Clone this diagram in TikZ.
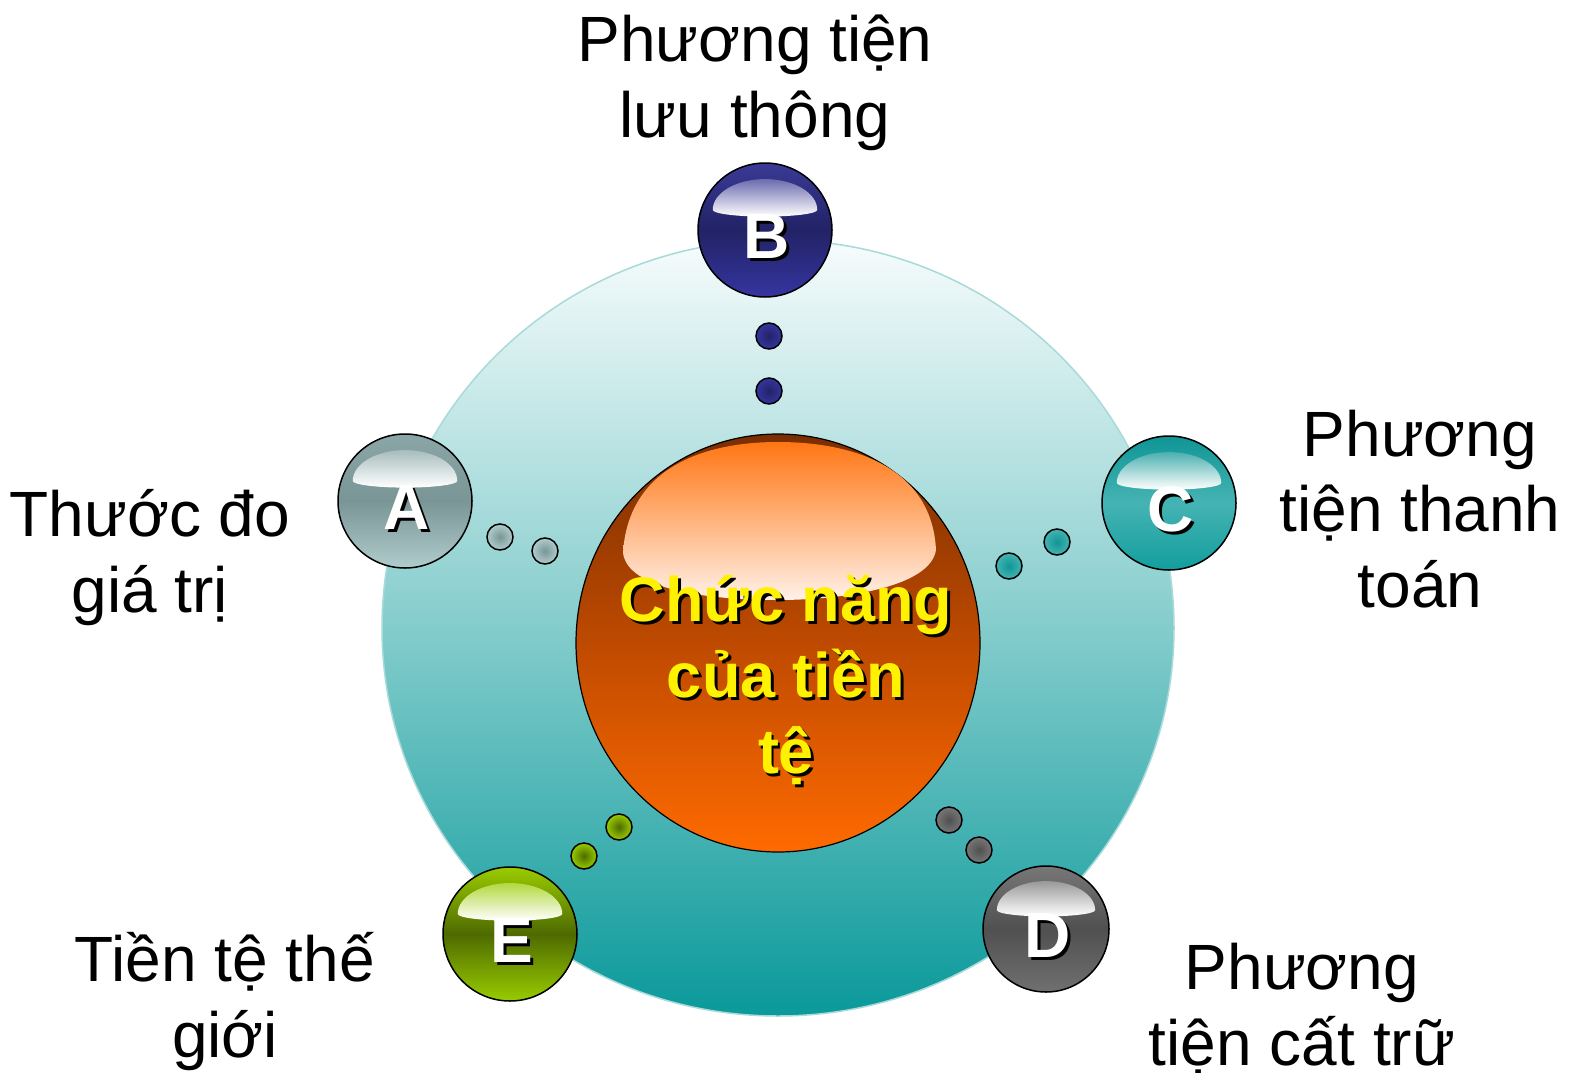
\documentclass[tikz,border=0pt]{standalone}
\usepackage{fontspec}
\setmainfont{Liberation Sans}
\usetikzlibrary{shapes.geometric,calc}
\definecolor{ringtop}{HTML}{F7FCFC}
\definecolor{ringmid}{HTML}{84CCCC}
\definecolor{ringbot}{HTML}{0A999A}
\definecolor{ringedge}{HTML}{A8DADA}
\definecolor{orTop}{HTML}{7A2E00}
\definecolor{orMid}{HTML}{BE4A00}
\definecolor{orBot}{HTML}{FF6A00}
\definecolor{hlTop}{HTML}{FF7614}
\definecolor{hlBot}{HTML}{FFF1E8}
\definecolor{aTop}{HTML}{8AA6A6}
\definecolor{aMid}{HTML}{7A9595}
\definecolor{aBot}{HTML}{B0CCCC}
\definecolor{bTop}{HTML}{3A3A96}
\definecolor{bMid}{HTML}{222266}
\definecolor{bBot}{HTML}{3535A0}
\definecolor{cTop}{HTML}{109595}
\definecolor{cMid}{HTML}{45B3B3}
\definecolor{cBot}{HTML}{139E9E}
\definecolor{dTop}{HTML}{777777}
\definecolor{dMid}{HTML}{505050}
\definecolor{dBot}{HTML}{707070}
\definecolor{eTop}{HTML}{9ACC00}
\definecolor{eMid}{HTML}{4E6A00}
\definecolor{eBot}{HTML}{99CC00}
\tikzset{
  orbshape/.style={circle, draw=black, line width=1.5pt, inner sep=0pt},
  smalldot/.style={circle, draw=black, line width=1.5pt, inner sep=0pt, minimum size=26pt, shading=radial},
  orbletter/.style={inner sep=0pt, anchor=center, font=\fontsize{64}{64}\selectfont\bfseries},
  coretext/.style={inner sep=0pt, anchor=base, align=center, font=\fontsize{63}{76}\selectfont\bfseries},
  label/.style={inner sep=0pt, anchor=base, align=center, font=\fontsize{64}{75.5}\selectfont, text=black}
}
% name, x, y, r, top, mid, bottom, letter
\newcommand{\orbball}[8]{%
  \node[orbshape, minimum size=2*#4, top color=#5, bottom color=#7, middle color=#6] (#1) at (#2,#3) {};
  \shade[top color=#5!75!white, bottom color=white]
    ($(#1)+(-0.78*#4,-0.3*#4)$) arc[start angle=180,end angle=360,x radius=0.78*#4,y radius=0.46*#4]
    arc[start angle=0,end angle=180,x radius=0.78*#4,y radius=0.1*#4] -- cycle;
  \node[orbletter, text=black] (#1sh) at ($(#1)+(5,9)$) {#8};
  \node[orbletter, text=white] (#1lt) at ($(#1)+(2,6)$) {#8};
}
\begin{document}
\begin{tikzpicture}[x=1pt,y=-1pt]
\useasboundingbox (0,0) rectangle (1571,1073);
\fill[white] (0,0) rectangle (1571,1073);
% big ring
\node[ellipse, draw=ringedge, line width=1.5pt, inner sep=0pt, minimum width=792, minimum height=776,
      top color=ringtop, bottom color=ringbot, middle color=ringmid] (ring) at (778,628) {};
% core
\node[ellipse, draw=black, line width=1.2pt, inner sep=0pt, minimum width=404, minimum height=418,
      top color=orTop, bottom color=orBot, middle color=orMid] (core) at (778,643) {};
\shade[top color=hlTop, bottom color=hlBot]
  (623,553) .. controls (628,470) and (700,442) .. (778,442)
  .. controls (858,442) and (932,470) .. (936,550)
  .. controls (930,588) and (840,600) .. (778,600)
  .. controls (710,600) and (628,590) .. (623,553) -- cycle;
\node[coretext, text=black] (coresh) at (789,776) {Chức năng\\của tiền\\tệ};
\node[coretext, text=yellow] (coretx) at (786,773) {Chức năng\\của tiền\\tệ};
% small dots
\node[smalldot, inner color=bMid, outer color=bBot] (b1) at (769,336) {};
\node[smalldot, inner color=bMid, outer color=bBot] (b2) at (769,391) {};
\node[smalldot, inner color=aMid, outer color=aBot] (a1) at (500,537) {};
\node[smalldot, inner color=aMid, outer color=aBot] (a2) at (545,551) {};
\node[smalldot, inner color=cTop, outer color=cMid] (c1) at (1057,542) {};
\node[smalldot, inner color=cTop, outer color=cMid] (c2) at (1009,566) {};
\node[smalldot, inner color=dMid, outer color=dTop] (d1) at (949,820) {};
\node[smalldot, inner color=dMid, outer color=dTop] (d2) at (979,850) {};
\node[smalldot, inner color=eMid, outer color=eBot] (e1) at (619,827) {};
\node[smalldot, inner color=eMid, outer color=eBot] (e2) at (584,856) {};
% orbs
\orbball{A}{405}{501}{67}{aTop}{aMid}{aBot}{A}
\orbball{B}{765}{230}{67}{bTop}{bMid}{bBot}{B}
\orbball{C}{1169}{503}{67}{cTop}{cMid}{cBot}{C}
\orbball{D}{1046}{929}{63}{dTop}{dMid}{dBot}{D}
\orbball{E}{510}{934}{67}{eTop}{eMid}{eBot}{E}
% labels
\node[label] (lB) at (755,137) {Phương tiện\\lưu thông};
\node[label] (lA) at (150,612) {Thước đo\\giá trị};
\node[label] (lC) at (1420,607) {Phương\\tiện thanh\\toán};
\node[label] (lE) at (225,1057) {Tiền tệ thế\\giới};
\node[label] (lD) at (1302,1065) {Phương\\tiện cất trữ};
\end{tikzpicture}
\end{document}
